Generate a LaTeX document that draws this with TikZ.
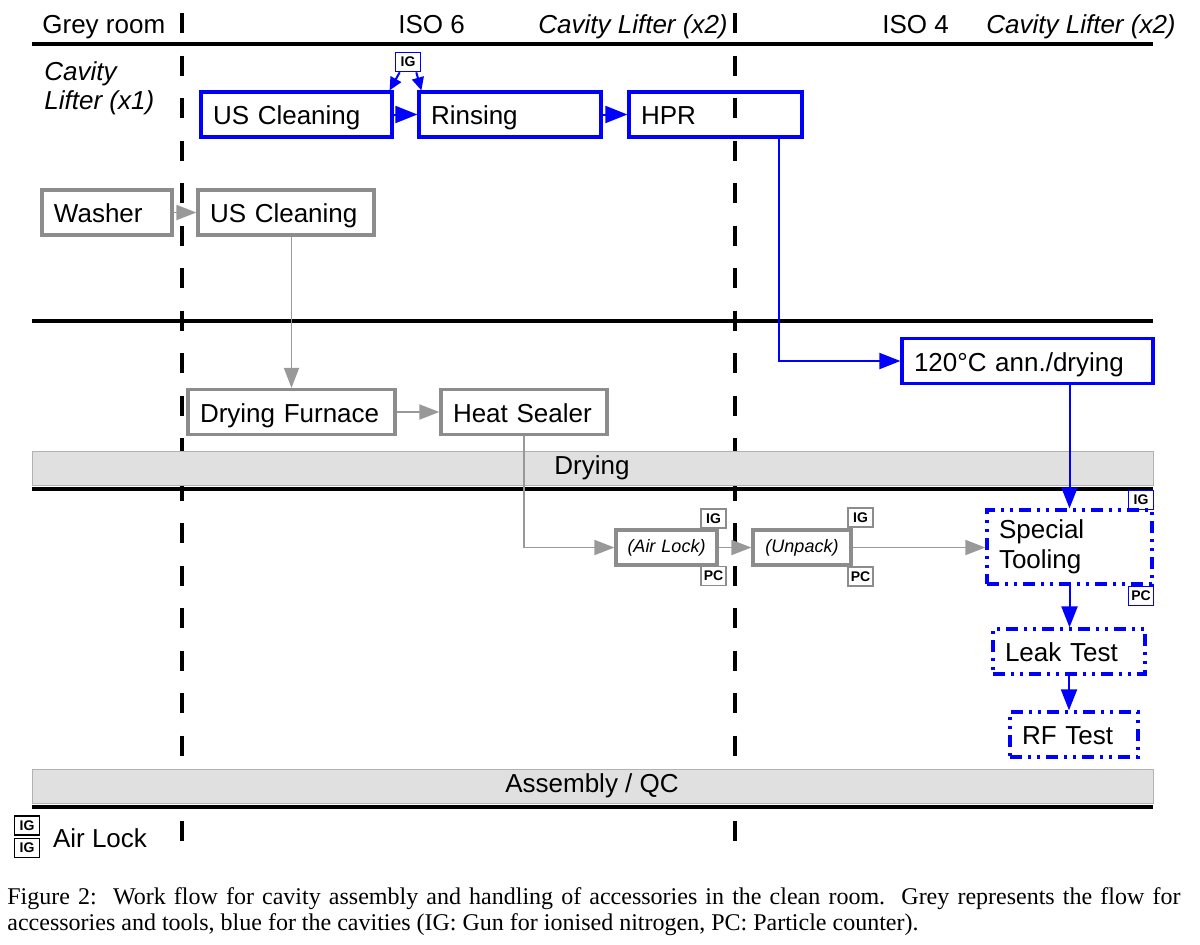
\documentclass[tikz,border=0pt]{standalone}
\usepackage{fontspec}
\setmainfont{Liberation Sans}
\newfontfamily\capfont{Liberation Serif}
\usetikzlibrary{arrows.meta}

\begin{document}
\begin{tikzpicture}[
    x=0.5pt, y=-0.5pt,
    every node/.style={color=black, font=\fontsize{13}{15}\selectfont},
    head/.style={anchor=base west, inner sep=0pt},
    room line/.style={line width=2pt},
    zone line/.style={line width=1.8pt, dash pattern=on 10pt off 11.25pt},
    band/.style={fill=black!12, draw=black!30, line width=0.5pt},
    box/.style={draw, line width=1.6pt, minimum height=22.5pt, inner xsep=6pt,
        text height=12pt, text depth=2pt, align=left, text width=#1},
    cavity/.style={box=#1, draw=blue},
    tool/.style={box=#1, draw=black!45},
    small tool/.style={tool=#1, inner xsep=3pt, align=center, minimum height=17.5pt,
        text height=7pt, text depth=2pt, font=\fontsize{9}{11}\selectfont\itshape},
    special/.style={cavity=#1,
        dash pattern=on 6pt off 3pt on 1.5pt off 3pt on 1.5pt off 3pt},
    tag/.style={draw=#1, line width=0.8pt, inner sep=0pt, minimum width=12.5pt,
        minimum height=9.5pt, font=\fontsize{7}{8}\selectfont\bfseries},
    pile/.style={->, >={Triangle[length=10pt, width=7.5pt]}},
    grey pile/.style={pile, draw=black!40, line width=0.9pt},
    blue pile/.style={->, >={Triangle[length=10.5pt, width=8pt]}, draw=blue, line width=1pt},
    ]
    \useasboundingbox (0,0) rectangle (1200,944);
    % Zones
    \draw[zone line] (182,13) -- (182,843);
    \draw[zone line] (735,13) -- (735,843);
    \draw[band] (32,451) rectangle (1153,485);
    \draw[band] (32,769) rectangle (1153,803);
    \node at (592,468) {Drying};
    \node at (592,786) {Assembly / QC};
    \draw[room line] (32,44) -- (1153,44);
    \draw[room line] (32,321) -- (1153,321);
    \draw[room line] (32,489) -- (1153,489);
    \draw[room line] (32,807) -- (1153,807);
    % Header
    \node[head] (grey) at (42,33) {Grey room};
    \node[head] (iso6) at (398,33) {ISO 6};
    \node[head, font=\fontsize{13}{15}\selectfont\itshape] (lift6) at (538,33) {Cavity Lifter (x2)};
    \node[head] (iso4) at (882,33) {ISO 4};
    \node[head, font=\fontsize{13}{15}\selectfont\itshape] (lift4) at (986,33) {Cavity Lifter (x2)};
    \node[anchor=north west, align=left, inner sep=0pt,
        font=\fontsize{13}{14.5}\selectfont\itshape] (lift1) at (44,61) {Cavity\\Lifter (x1)};
    % Cavities
    \node[cavity=83.5pt] (uscb) at (296.5,114.5) {US Cleaning};
    \node[cavity=79pt] (rins) at (510,114.5) {Rinsing};
    \node[cavity=74.5pt] (hpr) at (715.5,114.5) {HPR};
    \node[tag=blue] (igtop) at (408,62) {IG};
    \node[cavity=113.5pt] (anneal) at (1027.5,361) {120°C ann./drying};
    \node[special=70.5pt, minimum height=37pt, text height={}, text depth={}] (spec) at (1069.5,547) {Special\\Tooling};
    \node[tag=blue] (igspec) at (1141,500) {IG};
    \node[tag=blue] (pcspec) at (1141,596) {PC};
    \node[special=64pt] (leak) at (1069,651.5) {Leak Test};
    \node[special=52pt] (rf) at (1074,734.5) {RF Test};
    % Accessories and tools
    \node[tool=53pt] (washer) at (107,212.5) {Washer};
    \node[tool=76pt] (uscg) at (286,212.5) {US Cleaning};
    \node[tool=91.5pt] (furnace) at (291.5,412) {Drying Furnace};
    \node[tool=71pt] (sealer) at (524,412) {Heat Sealer};
    \node[small tool=44.5pt] (airlock) at (666.5,547.5) {(Air Lock)};
    \node[small tool=43pt] (unpack) at (802,547.5) {(Unpack)};
    \node[tag=black!45] (igair) at (713.5,518.5) {IG};
    \node[tag=black!45] (pcair) at (713.5,576) {PC};
    \node[tag=black!45] (igunp) at (860.5,517.5) {IG};
    \node[tag=black!45] (pcunp) at (860.5,576.5) {PC};
    % Blue flow
    \draw[blue pile, >={Triangle[length=6.5pt, width=6pt]}] ([xshift=2.5pt]igtop.south west) -- ([xshift=-2pt]uscb.north east);
    \draw[blue pile, >={Triangle[length=6.5pt, width=6pt]}] ([xshift=-2.5pt]igtop.south east) -- ([xshift=2pt]rins.north west);
    \draw[blue pile, >={Triangle[length=11pt, width=8.5pt]}] (uscb) -- (rins);
    \draw[blue pile, >={Triangle[length=11pt, width=8.5pt]}] (rins) -- (hpr);
    \draw[blue pile] ([xshift=-12.5pt]hpr.south east) |- (anneal.west);
    \draw[blue pile] (spec.north |- anneal.south) -- (spec.north);
    \draw[blue pile] (spec.south) -- (spec.south |- leak.north);
    \draw[blue pile] (leak.south) -- (leak.south |- rf.north);
    % Grey flow
    \draw[grey pile] (washer) -- (uscg);
    \draw[grey pile] (furnace.north |- uscg.south) -- (furnace.north);
    \draw[grey pile] (furnace) -- (sealer);
    \draw[grey pile] (sealer.south) |- (airlock.west);
    \draw[grey pile] (airlock) -- (unpack);
    \draw[grey pile] (unpack) -- (spec.west |- unpack.east);
    % Legend
    \node[tag=black] (leg1) at (27,825.5) {IG};
    \node[tag=black] (leg2) at (27,848) {IG};
    \node[anchor=west] (legtext) at (46,838) {Air Lock};
    % Caption
    \node[anchor=base west, inner sep=0pt, font=\capfont\fontsize{12}{14}\selectfont] (cap1) at (7,904)
        {\hbox to 586.5pt{Figure 2:\ \ Work flow for cavity assembly and handling of accessories in the clean room.\ \ Grey represents the flow for}};
    \node[anchor=base west, inner sep=0pt, font=\capfont\fontsize{12}{14}\selectfont] (cap2) at (7,930)
        {accessories and tools, blue for the cavities (IG: Gun for ionised nitrogen, PC: Particle counter).};
\end{tikzpicture}
\end{document}
